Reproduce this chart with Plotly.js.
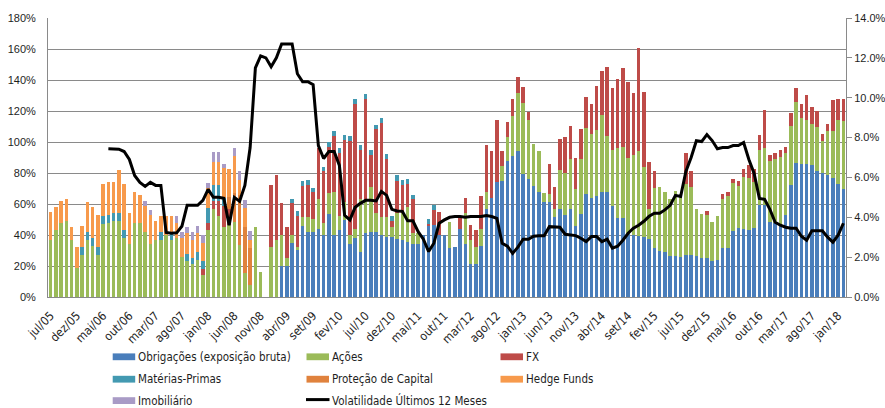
<!DOCTYPE html>
<html><head><meta charset="utf-8">
<script src="https://cdn.plot.ly/plotly-3.0.1.min.js"></script>
<style>html,body{margin:0;padding:0;background:#fff}</style>
</head><body><div id="chart" style="width:885px;height:408px"></div>
<script>
// ---- categories (monthly, jul/05 .. fev/18) ----
const monthNames = ['jan','fev','mar','abr','mai','jun','jul','ago','set','out','nov','dez'];
const categories = [];
for (let k = 0; k < 152; k++) {
  const m = (6 + k) % 12, y = 5 + Math.floor((6 + k) / 12);
  categories.push(monthNames[m] + '/' + String(y).padStart(2, '0'));
}
const tickLabels = categories.filter((c, i) => i % 5 === 0);

// ---- series values (% of NAV) ----
const obrigacoes = [
0,0,0,0,0,0,0,0,0,0,
0,0,0,0,0,0,0,0,0,0,
0,0,0,0,0,0,0,0,0,0,
0,0,0,0,0,0,0,0,0,0,
0,0,0,0,20,20,35,30.4,45.5,42.2,
42,43.8,40,53.4,40,43,49.8,34.5,38,29.3,
41.2,41.8,41.8,39.7,38.4,38.4,37.3,36.9,35.3,34.5,
34.5,40,45.5,46.5,40,40,31.5,32.3,43.7,34,
21,21,33,57,64,74,75,87.5,90.7,94,
79.3,76.3,71.3,68,61.6,61.2,51.5,57,53,57,
46,53.7,66.6,63.8,65,67.7,67.7,58.4,50.9,50.9,
40.5,40,39.4,38.6,37.3,31.5,29.7,28.9,26.5,26.5,
26,27,27,26.5,25.4,25.4,23.3,24,31.5,31.5,
42.7,44.6,43.8,43.3,44.4,59.5,59.5,48.7,48,46.5,
53,72.4,86.6,85.5,85.8,85.3,81.5,80,78.9,76.7,
72.8,69.8];
const acoes = [
37,43,48,49,37,18.5,27,37,33,27,
47,48,49,49,38,34,48,48,42,34,
37,37,40,37,38,26,23,21,24,14,
43,57,52,45,46.5,48.7,33.6,15.3,7.8,45,
16,0,32.5,37,20,5.4,5,2,6,9.3,
8.6,19.4,7.5,13.6,28,9,11.4,5.2,6,34,
20.5,28.9,12.3,11.9,13.1,6.5,16.8,17.2,23,6.5,
6.5,0,0,0,0,0,16.8,0,0,20,
15.7,11.4,11,10.8,0,0,9.5,15.5,26.3,37.7,
46,38,27.4,26.5,5.8,5.4,5.4,25.2,27,32,
24,35.6,42.5,41.4,43,50,36,36.6,45,46,
49,51.7,55,45,19.6,39,41,39,36.8,42,
38.8,45.7,44.2,30.4,28.2,27.6,25,28,31.5,33.4,
30.8,27.3,33.6,33.4,30,35.6,36.6,38.8,41,44,
40,37.7,39.4,30,28.6,26.6,28,20.4,28.4,30.2,
41.6,44];
const fx = [
0,0,0,0,0,0,0,0,0,0,
0,0,0,0,0,0,0,0,0,0,
0,0,0,0,0,0,0,0,0,4,
4.5,5,10,14,10,0,0,0,0,0,
0,0,40,41.5,20.5,20,20.5,20,20,21,
17,33,34,30,36,41,40.3,60.8,80.6,31.3,
66,21,54.3,60.8,37.7,3.9,21,17.9,14.7,22,
0,0,1.5,9.7,15,0,0,0,7.1,10,
9.7,10.8,21,30,30,40,10,10,10.8,10,
10,5,0,0,0,19,13.8,20,23,21.5,
19.4,18.8,19.8,19,28,28,44.6,40,45,51,
49,40,66,48.7,30,11,0,0,0,0,
0,20,10.3,0,0,2.6,0,0,3.2,2.8,
2.8,3,5.4,8.6,8,9.7,24.4,3.9,3.9,4.3,
3.9,8.6,9,9,16.2,10.7,10.8,5,4.6,20.1,
13.4,14];
const materiasPrimas = [
0,0,0,0,0,0,5,5,5,5,
5,5,5,5,5,0,0,0,0,0,
0,5,0,5,0,0,5,4,5,5,
10,10,10,5,0,0,0,0,0,0,
0,0,0,0,0,0,2.8,3,3.2,3.2,
3,0,2.6,3.2,3,3,2.8,3.2,3,3.2,
3.2,3.2,2.8,3.2,3.2,3.2,3.7,3.7,3.2,3,
0,0,3.4,3.2,0,0,0,0,0,0];
const protecaoCapital = [
0,0,0,0,0,0,0,0,0,0,
0,0,0,0,0,0,0,0,0,0,
0,0,0,0,0,0,0,0,0,0,
0,0,0,0,8,18.3,32.3,30,23.7,0];
const hedgeFunds = [
18,15,14,14,8,14,14,19.5,20,21,
21,21,20,28,30,20,20,18,17,19,
12,10,12,10,10,12,13,12,12,12,
13,15,15,19,18,23.7,9.7,12,5.4,0];
const imobiliario = [
0,0,0,0,0,0,0,0,0,0,
0,0,0,0,0,0,0,0,3,3,
0,0,0,0,4,4,4,5,5,5,
3,6.5,6.5,3,0,5.4,5.8,5.6,5.8,0];
const volatilidade = [
null,null,null,null,null,null,null,null,null,null,
null,7.44,7.44,7.42,7.3,6.9,6.1,5.75,5.55,5.75,
5.6,5.6,3.24,3.2,3.22,3.55,4.6,4.6,4.6,4.85,
5.4,5.0,5.0,4.95,3.6,5.0,4.8,5.6,7.5,11.5,
12.1,12.0,11.55,12.0,12.7,12.7,12.7,11.2,10.8,10.8,
10.65,7.6,6.95,7.3,7.3,6.6,4.1,3.87,4.5,4.7,
4.85,4.85,4.82,5.3,5.1,4.4,4.32,4.3,3.82,3.82,
3.28,2.9,2.28,2.7,3.7,3.87,4.0,4.04,4.04,4.0,
4.04,4.04,4.04,4.09,4.04,3.95,2.7,2.55,2.19,2.5,
2.9,2.9,3.05,3.07,3.07,3.53,3.53,3.5,3.15,3.12,
3.08,2.95,2.78,3.03,3.03,2.78,2.9,2.45,2.55,2.85,
3.2,3.45,3.6,3.8,4.05,4.2,4.2,4.37,4.6,5.1,
5.04,6.3,7.0,7.84,7.8,8.15,7.85,7.44,7.5,7.5,
7.6,7.6,7.75,6.9,6.2,4.95,4.9,4.4,3.75,3.6,
3.5,3.45,3.45,3.05,2.85,3.32,3.32,3.32,3.0,2.75,
3.1,3.7];

const seriesNames = ['Obrigações (exposição bruta)','Ações','FX','Matérias-Primas','Proteção de Capital','Hedge Funds','Imobiliário'];
const lineName = 'Volatilidade Últimos 12 Meses';
const seriesValues = [obrigacoes, acoes, fx, materiasPrimas, protecaoCapital, hedgeFunds, imobiliario];
const seriesColors = ['#4A7EBB','#9BBB59','#BE4B48','#4399B1','#E0823D','#F79A4C','#A99BC6'];

const FONT = '"Liberation Sans Narrow", "DejaVu Sans Condensed", sans-serif';
const TXT = '#1e1e1e';
const GRID = '#8a8a8a';

const traces = seriesValues.map((vals, s) => ({
  type: 'bar', name: seriesNames[s],
  x: categories.slice(0, vals.length), y: vals,
  marker: {color: seriesColors[s], line: {width: 0}},
  hoverinfo: 'x+y+name', showlegend: false
}));
traces.push({
  type: 'scatter', mode: 'lines', name: lineName,
  x: categories, y: volatilidade, yaxis: 'y2',
  line: {color: '#000', width: 3}, connectgaps: false, showlegend: false
});

// ---- manual legend (3 columns x 3 rows), pixel layout converted to paper ----
const L = 48, R = 846, T = 18, B = 297;
const px = v => (v - L) / (R - L), py = v => (B - v) / (B - T);
const legendItems = [
  {col: 0, row: 0, s: 0}, {col: 1, row: 0, s: 1}, {col: 2, row: 0, s: 2},
  {col: 0, row: 1, s: 3}, {col: 1, row: 1, s: 4}, {col: 2, row: 1, s: 5},
  {col: 0, row: 2, s: 6}, {col: 1, row: 2, s: -1}
];
const colX = [112.7, 306.5, 500.5], rowY = [356.8, 379.2, 400.6];
const shapes = [], annotations = [];
legendItems.forEach(it => {
  const x0 = colX[it.col], yc = rowY[it.row];
  if (it.s >= 0) {
    shapes.push({type: 'rect', xref: 'paper', yref: 'paper',
      x0: px(x0), x1: px(x0 + 22.5), y0: py(yc - 3.4), y1: py(yc + 3.4),
      fillcolor: seriesColors[it.s], line: {width: 0}});
  } else {
    shapes.push({type: 'line', xref: 'paper', yref: 'paper',
      x0: px(x0 - 0.5), x1: px(x0 + 23), y0: py(yc - 1), y1: py(yc - 1),
      line: {color: '#000', width: 3}});
  }
  annotations.push({xref: 'paper', yref: 'paper', x: px(x0 + 24), y: py(yc),
    xanchor: 'left', yanchor: 'middle', showarrow: false, borderpad: 0,
    text: it.s >= 0 ? seriesNames[it.s] : lineName,
    font: {family: FONT, size: 11.5, color: TXT}});
});

const layout = {
  width: 885, height: 408,
  margin: {l: L, r: 885 - R, t: T, b: 408 - B, pad: 0},
  paper_bgcolor: '#fff', plot_bgcolor: '#fff',
  barmode: 'stack', bargap: 0.33,
  showlegend: false,
  font: {family: FONT, size: 11, color: TXT},
  xaxis: {
    type: 'category', categoryorder: 'array', categoryarray: categories,
    range: [-0.5, categories.length - 0.5],
    tickmode: 'array', tickvals: tickLabels, ticktext: tickLabels,
    tickangle: -45, ticks: '', ticklabelstandoff: 6,
    tickfont: {family: FONT, size: 12, color: TXT},
    showgrid: false, showline: true, linecolor: GRID, linewidth: 1,
    zeroline: false, fixedrange: true
  },
  yaxis: {
    range: [0, 180], dtick: 20, tick0: 0, ticksuffix: '%',
    showgrid: true, gridcolor: GRID, gridwidth: 1,
    showline: true, linecolor: GRID, linewidth: 1, zeroline: false,
    ticks: '', ticklabelstandoff: 9,
    tickfont: {family: '"Liberation Sans", sans-serif', size: 11, color: TXT}
  },
  yaxis2: {
    overlaying: 'y', side: 'right', range: [0, 14], dtick: 2, tick0: 0,
    tickformat: '.1f', ticksuffix: '%', showgrid: false, zeroline: false,
    showline: true, linecolor: GRID, linewidth: 1,
    ticks: 'outside', ticklen: 5, tickcolor: GRID,
    tickfont: {family: '"Liberation Sans", sans-serif', size: 11, color: TXT}
  },
  shapes: shapes,
  annotations: annotations
};

Plotly.newPlot('chart', traces, layout, {displayModeBar: false, staticPlot: true});
</script>
</body></html>
